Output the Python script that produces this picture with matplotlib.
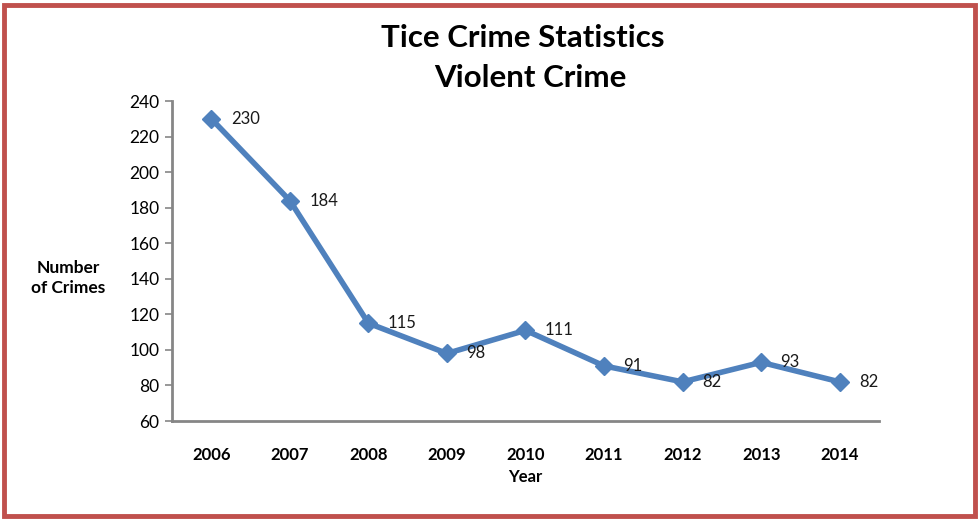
import matplotlib.pyplot as plt
from matplotlib.patches import Rectangle

years = ['2006', '2007', '2008', '2009', '2010', '2011', '2012', '2013', '2014']
crimes = [230, 184, 115, 98, 111, 91, 82, 93, 82]

plt.rcParams['font.family'] = ['Lato', 'DejaVu Sans']

W, H = 979, 519
fig = plt.figure(figsize=(W / 100, H / 100), dpi=100)

# axes box in pixel coords: left 172, right 879, top 101, bottom 421
ax = fig.add_axes([172 / W, 1 - 421 / H, (879 - 172) / W, (421 - 101) / H])

x = list(range(len(years)))
ax.plot(x, crimes, color='#4f81bd', linewidth=4, marker='D', markersize=9,
        markeredgecolor='#4f81bd', markerfacecolor='#4f81bd', zorder=3)

for xi, v in zip(x, crimes):
    ax.annotate(str(v), (xi, v), xytext=(14, 0), textcoords='offset points',
                ha='left', va='center', fontsize=12, color='#1a1a1a')

ax.set_xlim(-0.5, len(years) - 0.5)
ax.set_ylim(60, 240)
ax.set_yticks(range(60, 241, 20))
ax.set_xticks(x)
ax.set_xticklabels(years, fontweight='bold', fontsize=12)
ax.tick_params(axis='x', length=0, pad=19)
ax.tick_params(axis='y', length=5, width=1.2, color='#868686', labelsize=12.5, pad=4)

for s in ['top', 'right']:
    ax.spines[s].set_visible(False)
for s in ['left', 'bottom']:
    ax.spines[s].set_color('#868686')
    ax.spines[s].set_linewidth(2)

ax.set_xlabel('Year', fontweight='bold', fontsize=12, labelpad=4)
fig.text(68 / W, 1 - 278 / H, 'Number\nof Crimes', ha='center', va='center',
         fontweight='bold', fontsize=12.5, linespacing=1.3)

fig.text(523 / W, 1 - 38 / H, 'Tice Crime Statistics', ha='center', va='center',
         fontweight='bold', fontsize=22.5)
fig.text(530 / W, 1 - 78 / H, 'Violent Crime', ha='center', va='center',
         fontweight='bold', fontsize=22.5)

# red frame around the chart
fig.patches.append(Rectangle((4.5 / W, 3.5 / H), 971 / W, 511 / H,
                             transform=fig.transFigure, fill=False,
                             edgecolor='#c0504d', linewidth=3.5))

fig.savefig('out.png', dpi=100)
